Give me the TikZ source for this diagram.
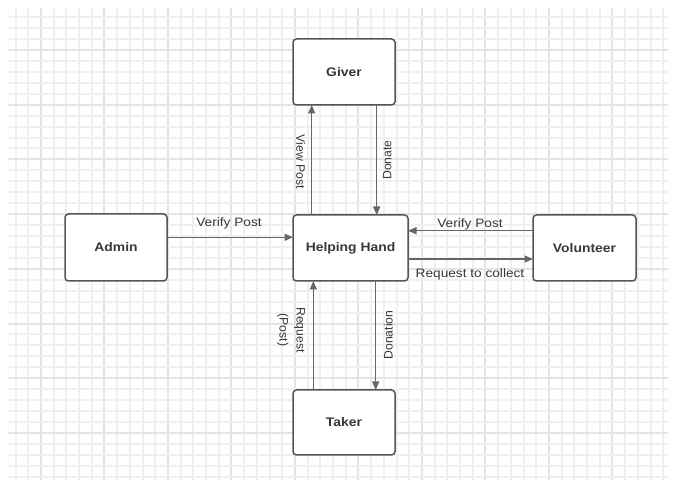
\documentclass[tikz,border=0pt]{standalone}
\usepackage{fontspec}
\setmainfont{Liberation Sans}
\usepackage{graphicx}
\usetikzlibrary{arrows.meta}
\definecolor{gridminor}{HTML}{F0F0F0}
\definecolor{gridmajor}{HTML}{E4E4E4}
\definecolor{boxc}{HTML}{555555}
\definecolor{arrc}{HTML}{666666}
\definecolor{txt}{HTML}{383838}
\tikzset{
  entity/.style={draw=boxc, line width=1.5pt, rounded corners=3.5pt, fill=white,
    inner sep=0pt, outer sep=0pt, text=txt,
    font=\fontsize{12.4}{14}\selectfont\bfseries},
  arr/.style={draw=arrc, line width=1.3pt, -{Triangle[length=8.5pt,width=7pt]}},
  lbl/.style={text=txt, inner sep=0pt, font=\fontsize{12.2}{17}\selectfont},
}
\newcommand{\wide}[1]{\scalebox{1.12}[1]{#1}}
\begin{document}
\begin{tikzpicture}[x=1pt,y=-1pt]
\useasboundingbox (0,0) rectangle (673,481);
\fill[white] (0,0) rectangle (673,481);
% grid
\foreach \k in {-2,...,49}{
  \pgfmathtruncatemacro{\xx}{round(41+12.7*\k)}
  \pgfmathtruncatemacro{\m}{mod(\k+10,5)}
  \ifnum\m=0
    \draw[gridmajor, line width=1.5pt] (\xx,8) -- (\xx,480);
  \else
    \draw[gridminor, line width=1.3pt] (\xx,8) -- (\xx,480);
  \fi
}
\foreach \k in {-3,...,39}{
  \pgfmathtruncatemacro{\yy}{round(50+10.94*\k)}
  \pgfmathtruncatemacro{\m}{mod(\k+10,5)}
  \ifnum\m=0
    \draw[gridmajor, line width=1.5pt] (8,\yy) -- (668,\yy);
  \else
    \draw[gridminor, line width=1.3pt] (8,\yy) -- (668,\yy);
  \fi
}
% nodes
\node[entity, minimum width=102pt, minimum height=66pt] (giver) at (344,72) {\wide{Giver}};
\node[entity, minimum width=115pt, minimum height=66pt] (hh) at (350.5,248) {\wide{Helping Hand}};
\node[entity, minimum width=103pt, minimum height=66pt] (vol) at (584.5,248) {\wide{Volunteer}};
\node[entity, minimum width=102pt, minimum height=67pt] (admin) at (116,247.5) {\wide{Admin}};
\node[entity, minimum width=102pt, minimum height=65pt] (taker) at (344,422.5) {\wide{Taker}};
% guide coordinates
\coordinate (vpx) at (311.7,0);
\coordinate (dnx) at (376.7,0);
\coordinate (rqx) at (313.3,0);
\coordinate (dox) at (375.7,0);
\coordinate (vay) at (0,237.3);
\coordinate (vvy) at (0,230.7);
\coordinate (rcy) at (0,259);
% connectors
\draw[arr] (hh.north -| vpx) -- (giver.south -| vpx);
\draw[arr] (giver.south -| dnx) -- (hh.north -| dnx);
\draw[arr] (admin.east |- vay) -- (hh.west |- vay);
\draw[arr] (vol.west |- vvy) -- (hh.east |- vvy);
\draw[arr] (hh.east |- rcy) -- (vol.west |- rcy);
\draw[arr] (taker.north -| rqx) -- (hh.south -| rqx);
\draw[arr] (hh.south -| dox) -- (taker.north -| dox);
% labels
\node[lbl, rotate=-90] (l1) at (300.7,161.7) {View Post};
\node[lbl, rotate=90] (l2) at (387.3,160) {Donate};
\node[lbl] (l3) at (229,223.3) {\wide{Verify Post}};
\node[lbl] (l4) at (470,224.3) {\wide{Verify Post}};
\node[lbl] (l5) at (470,274) {\wide{Request to collect}};
\node[lbl, rotate=-90, align=center] (l6) at (291,330) {Request\\(Post)};
\node[lbl, rotate=90] (l7) at (388.3,335) {Donation};
\end{tikzpicture}
\end{document}
